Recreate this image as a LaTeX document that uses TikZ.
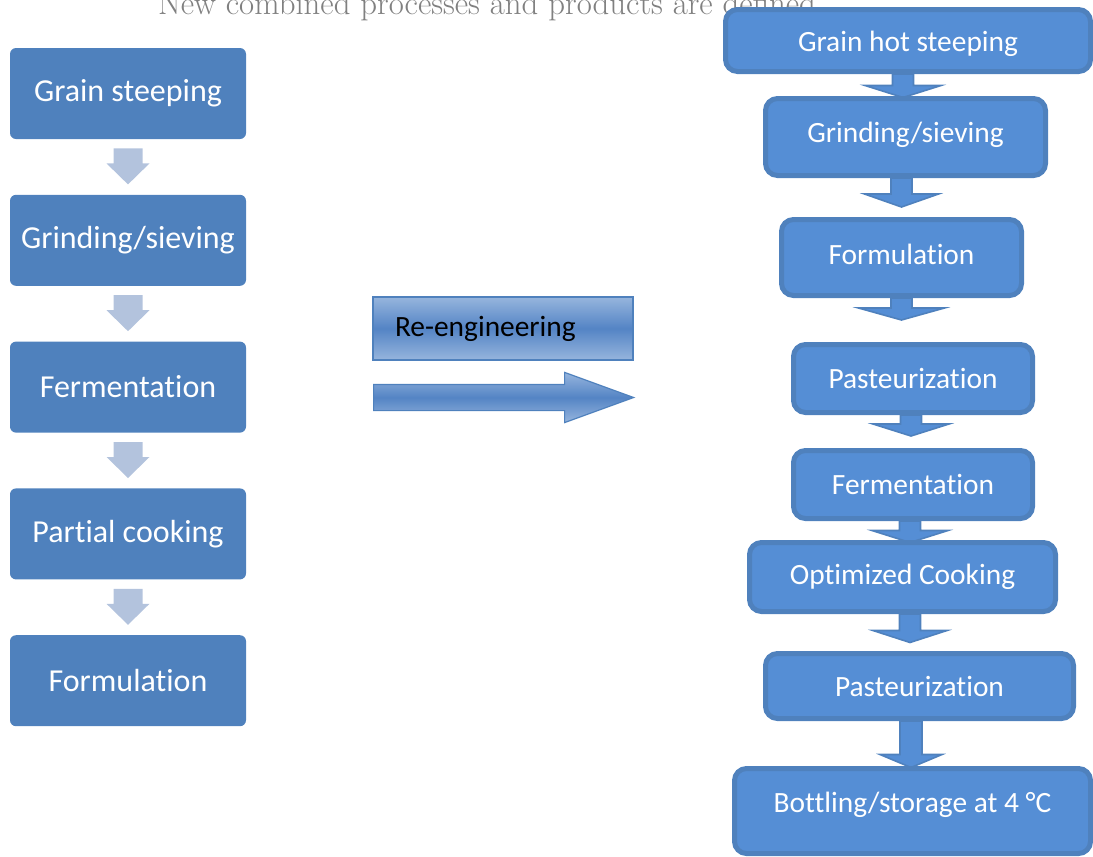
\documentclass[tikz,border=0pt]{standalone}
\usepackage{fontspec}
\newfontfamily\boxfont{Carlito}[Ligatures=NoCommon]
\usetikzlibrary{positioning,shapes.arrows,calc,backgrounds}

\definecolor{oldblue}{RGB}{79,129,189}
\definecolor{oldarrow}{RGB}{179,195,221}
\definecolor{newfill}{RGB}{85,142,213}
\definecolor{newline}{RGB}{79,129,189}
\definecolor{titlegray}{RGB}{128,128,128}
\definecolor{shadelight}{RGB}{150,181,221}
\definecolor{shadedark}{RGB}{84,132,197}

\tikzset{
  oldstep/.style={rectangle, rounded corners=3pt, fill=oldblue, text=white,
    font=\boxfont\fontsize{16}{19}\selectfont, minimum width=118pt, minimum height=45.5pt},
  newstep/.style={rectangle, rounded corners=6pt, draw=newline, line width=2.5pt,
    fill=newfill, text=white, font=\boxfont\fontsize{14.7}{17}\selectfont},
  oldflow/.style={fill=oldarrow},
  newflow/.style={draw=newline, line width=0.8pt, fill=newfill},
  reengbox/.style={rectangle, draw=newline, line width=0.8pt, top color=shadelight,
    bottom color=shadelight, middle color=shadedark, text=black,
    font=\boxfont\fontsize{14.7}{17}\selectfont, text width=108pt, inner xsep=11pt,
    minimum height=31.5pt, align=left}
}

% block arrow: style, from, tip, shaft half width, head half width, head length
\newcommand{\flowarrow}[6]{%
  \path[#1] let \p1=(#2), \p2=(#3) in
    (\x1-#4,\y1) -- (\x1-#4,\y2+#6) -- (\x1-#5,\y2+#6) -- (\x1,\y2)
    -- (\x1+#5,\y2+#6) -- (\x1+#4,\y2+#6) -- (\x1+#4,\y1) -- cycle;}

\begin{document}
\begin{tikzpicture}[x=0.5pt, y=-0.5pt, node distance=27.5pt]
\useasboundingbox (0,0) rectangle (1093,857);
\clip (0,0) rectangle (1093,857);

\node[font=\fontsize{16.4}{19}\selectfont, text=titlegray, anchor=base] (title) at (487,14)
  {New combined processes and products are defined};

% traditional process
\node[oldstep] (steep) at (128,93.5) {Grain steeping};
\node[oldstep, below=of steep] (grind) {Grinding/sieving};
\node[oldstep, below=of grind] (ferment) {Fermentation};
\node[oldstep, below=of ferment] (partial) {Partial cooking};
\node[oldstep, below=of partial] (formul) {Formulation};

\flowarrow{oldflow}{$(steep.south)+(0,9)$}{$(grind.north)+(0,-10)$}{7.25pt}{10.75pt}{10.5pt}
\flowarrow{oldflow}{$(grind.south)+(0,9)$}{$(ferment.north)+(0,-10)$}{7.25pt}{10.75pt}{10.5pt}
\flowarrow{oldflow}{$(ferment.south)+(0,9)$}{$(partial.north)+(0,-10)$}{7.25pt}{10.75pt}{10.5pt}
\flowarrow{oldflow}{$(partial.south)+(0,9)$}{$(formul.north)+(0,-10)$}{7.25pt}{10.75pt}{10.5pt}

% re-engineering
\node[reengbox] (reeng) at (503,328.5) {Re-engineering};
\node[single arrow, draw=newline, line width=0.6pt, top color=shadelight,
  bottom color=shadelight, middle color=shadedark, inner sep=0pt,
  text height=12.5pt, text depth=0pt, minimum height=130pt, minimum width=24.5pt,
  single arrow head extend=6pt, single arrow tip angle=40, anchor=tail] (shift) at (373,397.5) {};

% new process
\node[newstep, minimum width=182.5pt, minimum height=31pt, text height=14pt] (hotsteep) at (908,40.5) {Grain hot steeping};
\node[newstep, minimum width=140pt, minimum height=38.5pt, text depth=5pt] (rgrind) at (905.5,137) {Grinding/sieving};
\node[newstep, minimum width=120pt, minimum height=38pt, text depth=3pt] (rformul) at (901.5,257.5) {Formulation};
\node[newstep, minimum width=119.5pt, minimum height=34pt] (rpast1) at (913,378.5) {Pasteurization};
\node[newstep, minimum width=119.5pt, minimum height=34pt] (rferment) at (913,484.5) {Fermentation};
\node[newstep, minimum width=153pt, minimum height=34.5pt] (rcook) at (902.5,577) {Optimized Cooking};
\node[newstep, minimum width=154pt, minimum height=32.5pt] (rpast2) at (919.5,686) {Pasteurization};
\node[newstep, minimum width=178pt, minimum height=42.5pt, text depth=9pt] (rbottle) at (912.5,811) {Bottling/storage at 4 °C};

\begin{scope}[on background layer]
\flowarrow{newflow}{$(hotsteep.south)+(-5,0)$}{$(rgrind.north)+(0,1.5)$}{5.25pt}{19pt}{6pt}
\flowarrow{newflow}{$(rgrind.south)+(-4,0)$}{$(rformul.north)+(0,-10)$}{5.25pt}{18.5pt}{6.5pt}
\flowarrow{newflow}{$(rformul.south)+(0,0)$}{$(rpast1.north)+(0,-22)$}{5.25pt}{21.5pt}{6pt}
\flowarrow{newflow}{$(rpast1.south)+(-2,0)$}{$(rferment.north)+(0,-12)$}{5.25pt}{19pt}{6pt}
\flowarrow{newflow}{$(rferment.south)+(-3,0)$}{$(rcook.north)+(0,2.5)$}{5.25pt}{19pt}{6pt}
\flowarrow{newflow}{$(rcook.south)+(7.5,0)$}{$(rpast2.north)+(0,-8.5)$}{5.25pt}{18.5pt}{6pt}
\flowarrow{newflow}{$(rpast2.south)+(-8.5,0)$}{$(rbottle.north)+(0,1.5)$}{5.5pt}{15.5pt}{6.5pt}
\end{scope}
\end{tikzpicture}
\end{document}
